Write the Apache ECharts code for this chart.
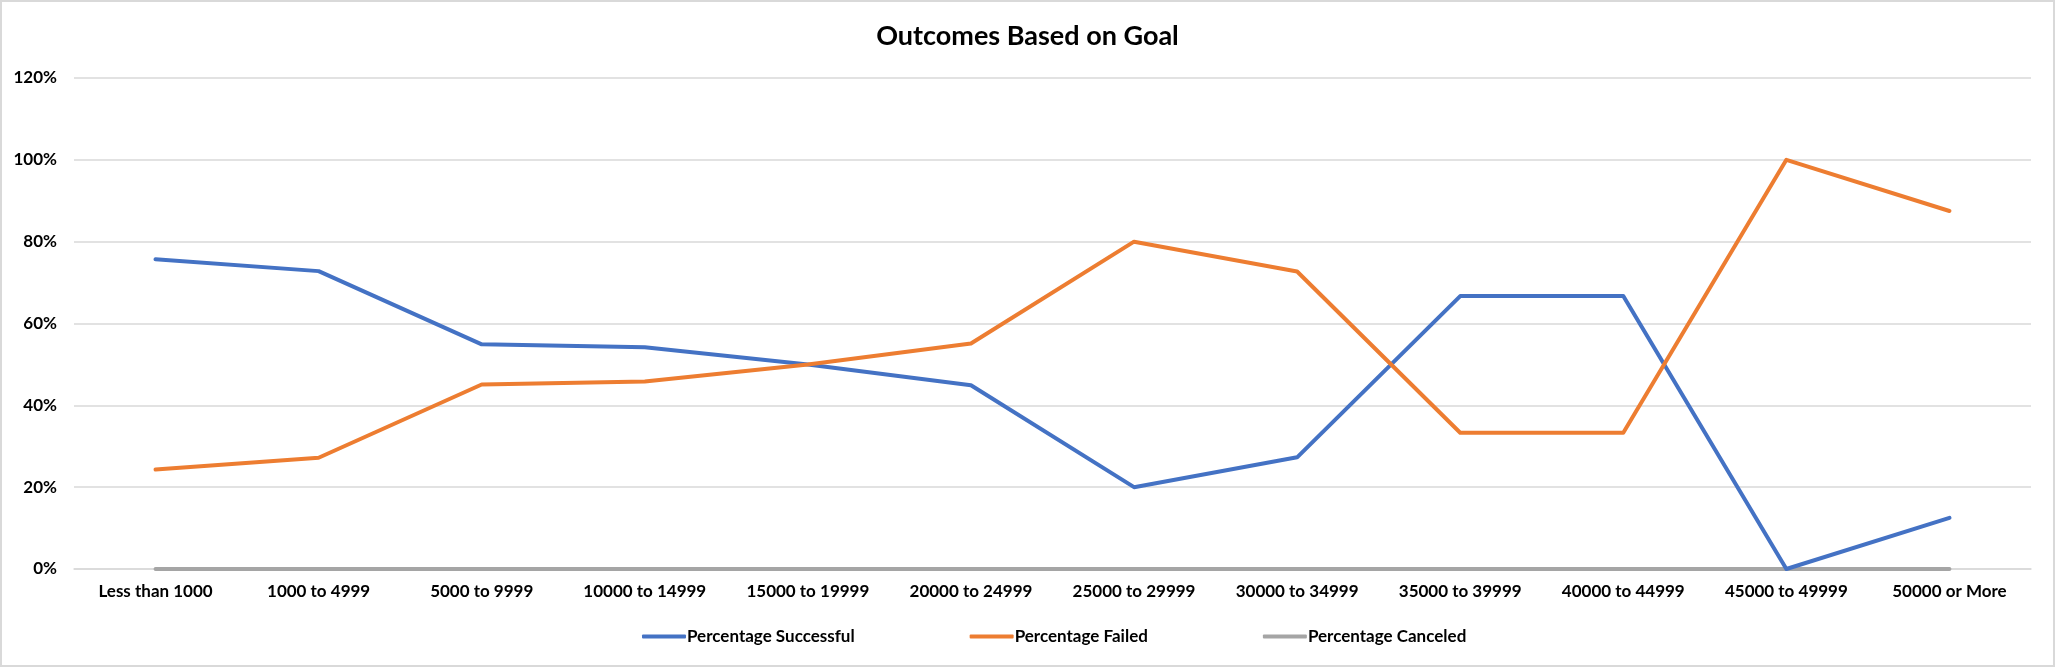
<!DOCTYPE html>
<html>
<head>
<meta charset="utf-8">
<script src="https://cdn.jsdelivr.net/npm/echarts@6/dist/echarts.min.js"></script>
<style>
html, body { margin: 0; padding: 0; background: #fff; }
#main { width: 2055px; height: 667px; }
</style>
</head>
<body>
<div id="main"></div>
<script>
var categories = ["Less than 1000", "1000 to 4999", "5000 to 9999", "10000 to 14999", "15000 to 19999",
    "20000 to 24999", "25000 to 29999", "30000 to 34999", "35000 to 39999", "40000 to 44999",
    "45000 to 49999", "50000 or More"];
var pctSuccessful = [0.757, 0.728, 0.549, 0.542, 0.500, 0.449, 0.200, 0.273, 0.667, 0.667, 0.000, 0.125];
var pctFailed = [0.243, 0.272, 0.451, 0.458, 0.500, 0.551, 0.800, 0.727, 0.333, 0.333, 1.000, 0.875];
var pctCanceled = [0, 0, 0, 0, 0, 0, 0, 0, 0, 0, 0, 0];

var font = "Lato";

function lineSeries(name, data, color) {
    return {
        name: name,
        type: 'line',
        data: data,
        symbol: 'none',
        lineStyle: { color: color, width: 4, cap: 'round', join: 'round' },
        itemStyle: { color: color },
        z: name == 'Percentage Canceled' ? 2 : 3
    };
}

var myChart = echarts.init(document.getElementById('main'));
var option = {
    animation: false,
    backgroundColor: '#ffffff',
    graphic: [{
        type: 'rect',
        shape: { x: 1, y: 1, width: 2053, height: 665 },
        style: { fill: 'none', stroke: '#d9d9d9', lineWidth: 2 },
        silent: true
    }],
    title: {
        text: 'Outcomes Based on Goal',
        left: 'center',
        top: 18,
        textStyle: { fontFamily: font, fontWeight: 'bold', fontSize: 27, color: '#000' }
    },
    legend: {
        bottom: 17,
        left: 637,
        itemGap: 115,
        itemWidth: 44,
        itemHeight: 4,
        icon: 'roundRect',
        textStyle: { fontFamily: font, fontWeight: 'bold', fontSize: 17, color: '#000', padding: [0, 0, 0, -4] },
        data: ['Percentage Successful', 'Percentage Failed', 'Percentage Canceled']
    },
    grid: {
        left: 74,
        right: 24,
        top: 78,
        bottom: 98
    },
    xAxis: {
        type: 'category',
        boundaryGap: true,
        data: categories,
        axisLine: { lineStyle: { color: '#d9d9d9', width: 1.5 } },
        axisTick: { show: false },
        axisLabel: { fontFamily: font, fontWeight: 'bold', fontSize: 17, color: '#000', margin: 14, interval: 0 }
    },
    yAxis: {
        type: 'value',
        min: 0,
        max: 1.2,
        interval: 0.2,
        axisLine: { show: false },
        axisTick: { show: false },
        splitLine: { lineStyle: { color: '#d9d9d9', width: 1.5 } },
        axisLabel: {
            fontFamily: font, fontWeight: 'bold', fontSize: 17, color: '#000', margin: 17,
            formatter: function (v) { return Math.round(v * 100) + '%'; }
        }
    },
    series: [
        lineSeries('Percentage Successful', pctSuccessful, '#4472c4'),
        lineSeries('Percentage Failed', pctFailed, '#ed7d31'),
        lineSeries('Percentage Canceled', pctCanceled, '#a5a5a5')
    ]
};
myChart.setOption(option);
</script>
</body>
</html>
